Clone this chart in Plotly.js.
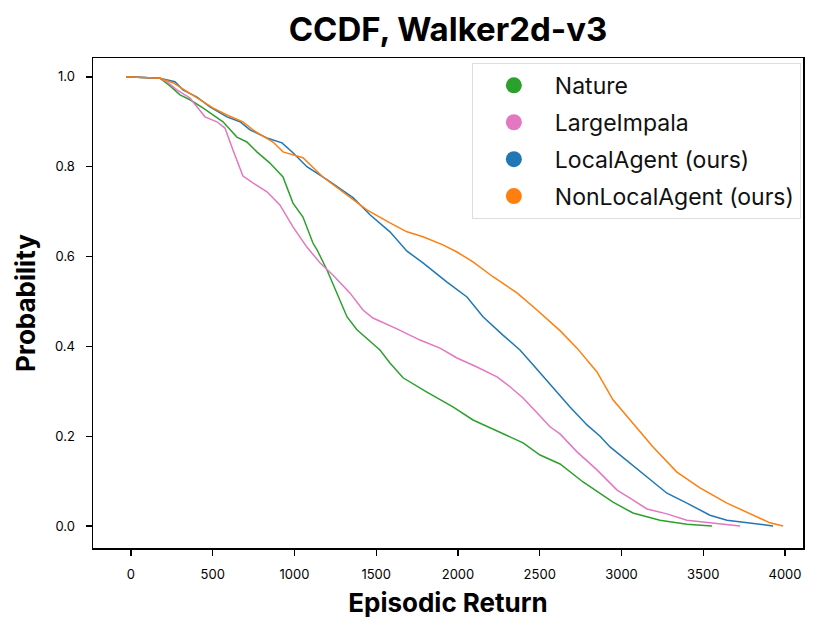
<!DOCTYPE html>
<html>
<head>
<meta charset="utf-8">
<script src="https://cdn.plot.ly/plotly-3.0.1.min.js"></script>
<style>
  html, body { margin: 0; padding: 0; background: #fff; }
  #chart { width: 831px; height: 634px; }
</style>
</head>
<body>
<div id="chart"></div>
<script>
// CCDF curves (episodic return, probability)
const natureX = [-30, 177, 239, 300, 361, 440, 563, 648, 709, 770, 850, 930, 991, 1052, 1113, 1138, 1199, 1260, 1321, 1382, 1523, 1584, 1664, 1810, 1969, 2092, 2257, 2398, 2502, 2624, 2765, 2887, 2948, 3070, 3235, 3400, 3553];
const natureY = [1.0, 0.997, 0.980, 0.960, 0.949, 0.931, 0.900, 0.866, 0.855, 0.833, 0.808, 0.777, 0.719, 0.688, 0.630, 0.615, 0.570, 0.519, 0.466, 0.437, 0.392, 0.363, 0.330, 0.298, 0.265, 0.236, 0.209, 0.185, 0.158, 0.138, 0.098, 0.069, 0.053, 0.029, 0.013, 0.004, 0.0];

const impalaX = [-30, 177, 220, 281, 361, 404, 453, 526, 575, 624, 685, 746, 832, 911, 991, 1076, 1156, 1235, 1339, 1419, 1480, 1627, 1768, 1890, 1994, 2116, 2239, 2318, 2398, 2483, 2563, 2624, 2728, 2850, 2973, 3052, 3156, 3278, 3400, 3541, 3725];
const impalaY = [1.0, 0.997, 0.989, 0.971, 0.953, 0.933, 0.911, 0.900, 0.886, 0.837, 0.779, 0.764, 0.744, 0.715, 0.666, 0.621, 0.586, 0.559, 0.519, 0.481, 0.463, 0.439, 0.414, 0.396, 0.374, 0.354, 0.332, 0.310, 0.285, 0.252, 0.221, 0.205, 0.165, 0.125, 0.080, 0.062, 0.038, 0.027, 0.013, 0.007, 0.0];

const localX = [-30, 177, 269, 318, 404, 483, 587, 667, 728, 832, 924, 991, 1076, 1199, 1358, 1462, 1584, 1688, 1786, 1933, 2055, 2153, 2275, 2379, 2459, 2581, 2685, 2789, 2869, 2930, 3052, 3174, 3278, 3400, 3541, 3645, 3768, 3847, 3927];
const localY = [1.0, 0.997, 0.989, 0.971, 0.955, 0.933, 0.911, 0.900, 0.882, 0.864, 0.853, 0.831, 0.800, 0.771, 0.731, 0.693, 0.655, 0.612, 0.586, 0.543, 0.510, 0.466, 0.425, 0.392, 0.359, 0.307, 0.265, 0.225, 0.200, 0.176, 0.140, 0.102, 0.073, 0.051, 0.024, 0.013, 0.007, 0.004, 0.0];

const nonlocalX = [-30, 177, 257, 343, 422, 501, 587, 685, 746, 869, 930, 1052, 1174, 1339, 1443, 1584, 1688, 1786, 1908, 1994, 2092, 2214, 2361, 2483, 2624, 2728, 2850, 2948, 3070, 3193, 3339, 3480, 3645, 3804, 3908, 3988];
const nonlocalY = [1.0, 0.997, 0.987, 0.967, 0.949, 0.931, 0.915, 0.900, 0.882, 0.855, 0.833, 0.820, 0.777, 0.733, 0.704, 0.675, 0.655, 0.644, 0.626, 0.610, 0.588, 0.555, 0.519, 0.481, 0.435, 0.396, 0.343, 0.281, 0.229, 0.176, 0.120, 0.085, 0.051, 0.024, 0.007, 0.0];

const seriesNames = ['Nature', 'LargeImpala', 'LocalAgent (ours)', 'NonLocalAgent (ours)'];
const seriesColors = ['#2ca02c', '#e377c2', '#1f77b4', '#ff7f0e'];
const xTicks = [0, 500, 1000, 1500, 2000, 2500, 3000, 3500, 4000];
const yTicks = [0.0, 0.2, 0.4, 0.6, 0.8, 1.0];

const curves = [[natureX, natureY], [impalaX, impalaY], [localX, localY], [nonlocalX, nonlocalY]];

const traces = [];
// lines first, hidden from legend
curves.forEach((c, i) => {
    traces.push({
        x: c[0], y: c[1], type: 'scatter', mode: 'lines',
        line: { color: seriesColors[i], width: 1.5 },
        showlegend: false, hoverinfo: 'skip'
    });
});
// legend entries drawn as dots, like the reference (one group each so the gap applies)
seriesNames.forEach((n, i) => {
    traces.push({
        x: [null], y: [null], type: 'scatter', mode: 'markers', name: n,
        legendgroup: 'g' + i,
        marker: { color: seriesColors[i], size: 16 }
    });
});

const AXIS = {
    showgrid: false, zeroline: false,
    showline: true, linecolor: '#000', linewidth: 1.5, mirror: true,
    ticks: 'outside', ticklen: 6, tickwidth: 1.3, tickcolor: '#000',
    ticklabelstandoff: 8,
    tickfont: { family: 'Inter', size: 13, color: '#000' }
};

const layout = {
    width: 831, height: 634,
    paper_bgcolor: '#fff', plot_bgcolor: '#fff',
    margin: { l: 93, r: 28, t: 58, b: 86 },
    title: {
        text: '<b>CCDF, Walker2d-v3</b>',
        font: { family: 'Inter', size: 33, color: '#000' },
        xref: 'paper', x: 0.5, xanchor: 'center', y: 0.953, yanchor: 'middle'
    },
    xaxis: {
        ...AXIS, range: [-232, 4110], tickvals: xTicks,
        title: { text: '<b>Episodic Return</b>', font: { family: 'Inter', size: 26, color: '#000' }, standoff: 12 }
    },
    yaxis: {
        ...AXIS, range: [-0.049, 1.042], tickvals: yTicks, tickformat: '.1f',
        title: { text: '<b>Probability</b>', font: { family: 'Inter', size: 26, color: '#000' }, standoff: 12 }
    },
    legend: {
        x: 0.997, xanchor: 'right', y: 0.99, yanchor: 'top',
        bgcolor: 'rgba(255,255,255,0.85)', bordercolor: '#ddd', borderwidth: 1,
        font: { family: 'Inter', size: 23, color: '#111' },
        itemwidth: 72, tracegroupgap: 4
    },
    showlegend: true
};

Plotly.newPlot('chart', traces, layout, { displayModeBar: false, staticPlot: true });
</script>
</body>
</html>
